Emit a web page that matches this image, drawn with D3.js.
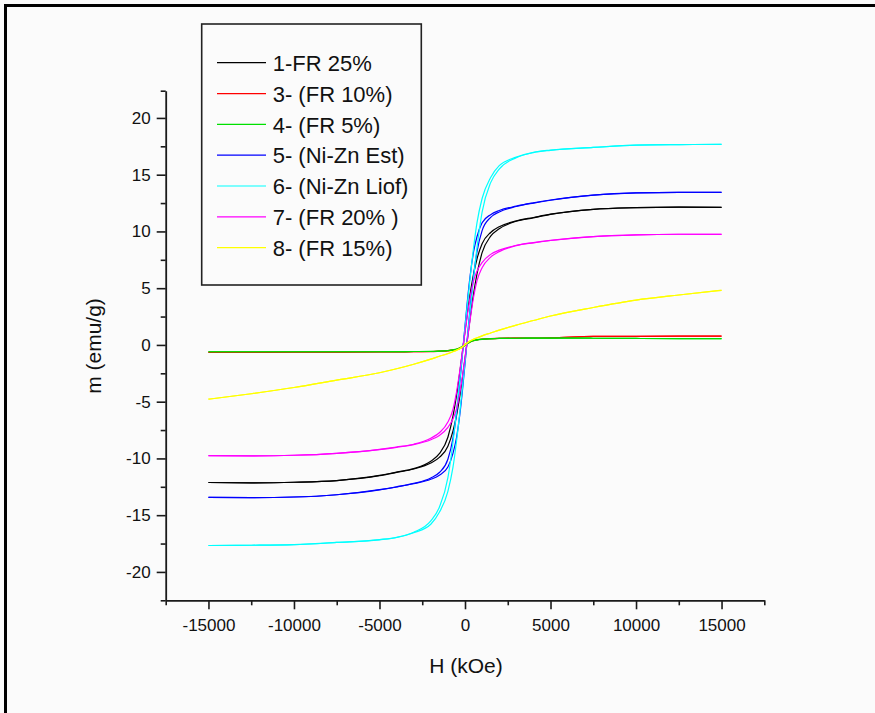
<!DOCTYPE html>
<html><head><meta charset="utf-8">
<script src="https://cdn.jsdelivr.net/npm/d3@7/dist/d3.min.js"></script>
<style>html,body{margin:0;padding:0;background:#fbfbfb;overflow:hidden}
text{font-family:"Liberation Sans",Arial,sans-serif;fill:#111}</style>
</head><body><svg id="c" width="875" height="713"></svg>
<script>
// Field values (Oe) shared by all branches
const H = [-15000,-12500,-10000,-7500,-5000,-4000,-3000,-2000,-1500,-1000,-700,-500,-300,-150,0,150,300,500,700,1000,1500,2000,3000,4000,5000,7500,10000,12500,15000];

const seriesNames = ["1-FR 25%","3- (FR 10%)","4- (FR 5%)","5- (Ni-Zn Est)","6- (Ni-Zn Liof)","7- (FR 20% )","8- (FR 15%)"];
const seriesColors = ["#000000","#ff0000","#00e000","#0000ff","#00ffff","#ff00ff","#ffff00"];

// descending (field decreasing) and ascending branches, m in emu/g
const fr25Desc = [-12.12,-12.15,-12.1,-11.95,-11.5,-11.2,-10.9,-10.24,-9.58,-8.13,-6.25,-4.5,-2.37,-0.6,1.2,2.93,4.5,6.25,7.57,8.92,9.91,10.41,10.93,11.23,11.52,11.95,12.1,12.15,12.12];
const fr25Asc  = [-12.12,-12.15,-12.1,-11.95,-11.52,-11.23,-10.93,-10.41,-9.91,-8.92,-7.57,-6.25,-4.5,-2.93,-1.2,0.6,2.37,4.5,6.25,8.13,9.58,10.24,10.9,11.2,11.5,11.95,12.1,12.15,12.12];

const fr10Desc = [-0.66,-0.65,-0.64,-0.63,-0.62,-0.61,-0.6,-0.58,-0.55,-0.5,-0.44,-0.38,-0.26,-0.12,0.05,0.18,0.3,0.4,0.46,0.51,0.56,0.58,0.6,0.61,0.62,0.75,0.76,0.77,0.77];
const fr10Asc  = [-0.66,-0.65,-0.64,-0.63,-0.62,-0.61,-0.6,-0.59,-0.56,-0.52,-0.47,-0.41,-0.31,-0.18,-0.05,0.12,0.26,0.38,0.44,0.5,0.55,0.58,0.6,0.61,0.62,0.75,0.76,0.77,0.77];

const fr5Desc = [-0.6,-0.6,-0.6,-0.6,-0.6,-0.59,-0.58,-0.57,-0.54,-0.49,-0.43,-0.37,-0.25,-0.11,0.05,0.18,0.3,0.4,0.46,0.51,0.55,0.57,0.59,0.6,0.6,0.59,0.57,0.56,0.55];
const fr5Asc  = [-0.6,-0.6,-0.6,-0.6,-0.6,-0.59,-0.58,-0.58,-0.55,-0.51,-0.46,-0.4,-0.3,-0.18,-0.05,0.11,0.25,0.37,0.43,0.49,0.54,0.57,0.59,0.6,0.6,0.59,0.57,0.56,0.55];

const nizEstDesc = [-13.44,-13.45,-13.4,-13.2,-12.75,-12.5,-12.2,-11.72,-11.24,-10.07,-8.2,-6.1,-3.27,-0.83,1.67,4.03,6.1,8.2,9.53,10.76,11.48,11.84,12.23,12.52,12.77,13.2,13.4,13.45,13.44];
const nizEstAsc  = [-13.44,-13.45,-13.4,-13.2,-12.77,-12.52,-12.23,-11.84,-11.48,-10.76,-9.53,-8.2,-6.1,-4.03,-1.67,0.83,3.27,6.1,8.2,10.07,11.24,11.72,12.2,12.5,12.75,13.2,13.4,13.45,13.44];

const nizLiofDesc = [-17.67,-17.65,-17.6,-17.4,-17.15,-16.95,-16.5,-15.5,-14.3,-11.7,-8.55,-5.9,-3.03,-0.77,1.53,3.77,5.9,8.55,10.75,12.9,14.75,15.8,16.55,16.97,17.17,17.4,17.6,17.65,17.67];
const nizLiofAsc  = [-17.67,-17.65,-17.6,-17.4,-17.17,-16.97,-16.55,-15.8,-14.75,-12.9,-10.75,-8.55,-5.9,-3.77,-1.53,0.77,3.03,5.9,8.55,11.7,14.3,15.5,16.5,16.95,17.15,17.4,17.6,17.65,17.67];

const fr20Desc = [-9.76,-9.77,-9.72,-9.55,-9.2,-9.0,-8.75,-8.22,-7.74,-6.8,-5.65,-4.2,-2.23,-0.57,1.13,2.77,4.2,5.65,6.5,7.26,7.98,8.35,8.78,9.02,9.22,9.55,9.7,9.75,9.74];
const fr20Asc  = [-9.76,-9.77,-9.72,-9.55,-9.22,-9.02,-8.78,-8.35,-7.98,-7.26,-6.5,-5.65,-4.2,-2.77,-1.13,0.57,2.23,4.2,5.65,6.8,7.74,8.22,8.75,9.0,9.2,9.55,9.7,9.75,9.74];

const fr15Desc = [-4.78,-4.3,-3.75,-3.1,-2.45,-2.1,-1.7,-1.25,-1.0,-0.76,-0.58,-0.46,-0.3,-0.15,0.05,0.22,0.37,0.51,0.63,0.8,1.05,1.3,1.75,2.15,2.55,3.3,3.95,4.4,4.81];
const fr15Asc  = [-4.78,-4.3,-3.75,-3.1,-2.45,-2.1,-1.7,-1.25,-1.0,-0.78,-0.6,-0.48,-0.33,-0.18,0.0,0.18,0.34,0.49,0.61,0.8,1.05,1.3,1.75,2.15,2.55,3.3,3.95,4.4,4.81];

const branches = [
  [fr25Desc, fr25Asc], [fr10Desc, fr10Asc], [fr5Desc, fr5Asc],
  [nizEstDesc, nizEstAsc], [nizLiofDesc, nizLiofAsc], [fr20Desc, fr20Asc], [fr15Desc, fr15Asc]
];

const xMajor = [-15000,-10000,-5000,0,5000,10000,15000];
const xMinor = [-17500,-12500,-7500,-2500,2500,7500,12500,17500];
const yMajor = [-20,-15,-10,-5,0,5,10,15,20];
const yMinor = [-22.5,-17.5,-12.5,-7.5,-2.5,2.5,7.5,12.5,17.5,22.4];

const svg = d3.select("#c");
svg.append("rect").attr("x",0).attr("y",0).attr("width",875).attr("height",713).attr("fill","#fbfbfb");
// outer frame
svg.append("rect").attr("x",5.5).attr("y",5.5).attr("width",1000).attr("height",1000)
  .attr("fill","none").attr("stroke","#000").attr("stroke-width",3);

const x = d3.scaleLinear().domain([-17500,17500]).range([165.7,764.3]);
const y = d3.scaleLinear().domain([-22.5,22.4]).range([600.3,90.7]);

const line = d3.line().x((d)=>x(d[0])).y((d)=>y(d[1])).curve(d3.curveMonotoneX);
const plot = svg.append("g");
branches.forEach((b,i)=>{
  b.forEach(arr=>{
    plot.append("path").datum(H.map((h,j)=>[h,arr[j]]))
      .attr("d",line).attr("fill","none").attr("stroke",seriesColors[i])
      .attr("stroke-width",1.2).attr("stroke-linejoin","round");
  });
});

// axes (plain hyphen minus signs as in the original)
const fmt = (d)=>String(d);
function styleAxis(g){
  g.select(".domain").attr("stroke","#1a1a1a").attr("stroke-width",1.8);
  g.selectAll(".tick line").attr("stroke","#1a1a1a").attr("stroke-width",1.6);
  g.selectAll(".tick text").style("font-size","17px").attr("fill","#111");
}
const gx = svg.append("g").attr("transform","translate(0,600.3)")
  .call(d3.axisBottom(x).tickValues(xMajor).tickSize(9).tickSizeOuter(0).tickPadding(6).tickFormat(fmt));
styleAxis(gx);
gx.selectAll(".tick text").attr("dy","0.95em");
const gxm = svg.append("g").attr("transform","translate(0,600.3)")
  .call(d3.axisBottom(x).tickValues(xMinor).tickSize(5).tickSizeOuter(0).tickFormat(""));
styleAxis(gxm); gxm.select(".domain").remove();

const gy = svg.append("g").attr("transform","translate(165.7,0)")
  .call(d3.axisLeft(y).tickValues(yMajor).tickSize(9).tickSizeOuter(0).tickPadding(6).tickFormat(fmt));
styleAxis(gy);
const gym = svg.append("g").attr("transform","translate(165.7,0)")
  .call(d3.axisLeft(y).tickValues(yMinor).tickSize(5).tickSizeOuter(0).tickFormat(""));
styleAxis(gym); gym.select(".domain").remove();

// axis titles
svg.append("text").attr("x",466).attr("y",673).attr("text-anchor","middle")
  .style("font-size","21px").text("H (kOe)");
svg.append("text").attr("transform","translate(101,346) rotate(-90)").attr("text-anchor","middle")
  .style("font-size","21px").text("m (emu/g)");

// legend
const lg = svg.append("g");
lg.append("rect").attr("x",201.7).attr("y",24).attr("width",219.6).attr("height",261)
  .attr("fill","#fbfbfb").attr("stroke","#222").attr("stroke-width",1.6);
seriesNames.forEach((n,i)=>{
  const ly = 62.7 + i*30.83;
  lg.append("line").attr("x1",217).attr("x2",266).attr("y1",ly).attr("y2",ly)
    .attr("stroke",seriesColors[i]).attr("stroke-width",1.2);
  lg.append("text").attr("x",272.7).attr("y",ly+8.2).style("font-size","22px").text(n);
});
</script></body></html>
